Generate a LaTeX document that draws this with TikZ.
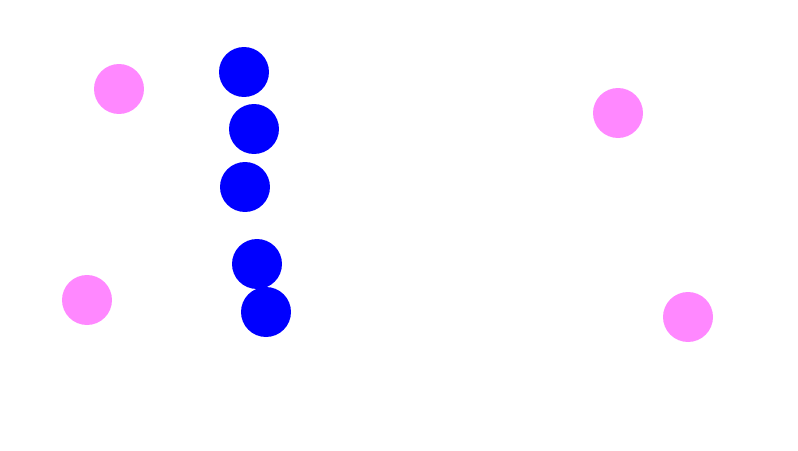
\documentclass[tikz,border=0pt]{standalone}
\usepackage{tikz}
\usetikzlibrary{positioning}
\definecolor{dotpink}{RGB}{255,136,255}
\definecolor{dotblue}{RGB}{0,0,255}
\tikzset{
    bluedot/.style={circle, fill=dotblue, inner sep=0pt, minimum size=1cm},
    pinkdot/.style={circle, fill=dotpink, inner sep=0pt, minimum size=1cm}
}

\begin{document}
\begin{tikzpicture}[x=0.02cm, y=-0.02cm]
    \useasboundingbox (0,0) rectangle (798,450);
    % column of blue dots
    \node[bluedot] (b1) at (244,72) {};
    \node[bluedot] (b2) at (254,129) {};
    \node[bluedot] (b3) at (245,187) {};
    \node[bluedot] (b4) at (257,264) {};
    \node[bluedot] (b5) at (266,312) {};

    % pink dots round the edges
    \node[pinkdot] (p1) at (119,89) {};
    \node[pinkdot] (p2) at (87,300) {};
    \node[pinkdot] (p3) at (618,113) {};
    \node[pinkdot] (p4) at (688,317) {};
\end{tikzpicture}
\end{document}
